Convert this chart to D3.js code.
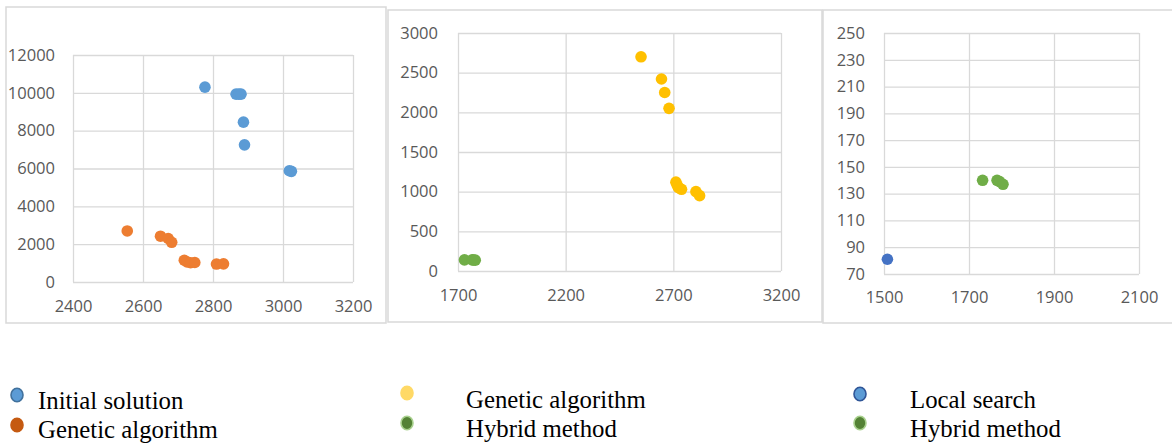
<!DOCTYPE html>
<html>
<head>
<meta charset="utf-8">
<script src="https://cdnjs.cloudflare.com/ajax/libs/d3/7.8.5/d3.min.js"></script>
<style>
  body { margin: 0; background: #fff; }
  .tick text { font-family: "Open Sans", sans-serif; font-size: 16.5px; fill: #595959; }
  .legend text { font-family: "Liberation Serif", "Times New Roman", serif; font-size: 24.8px; fill: #000; }
</style>
</head>
<body>
<div id="chart"></div>
<script>
// panel 1 : initial solution vs genetic algorithm
var p1Initial = [[2777, 10300], [2866, 9930], [2874, 9930], [2880, 9930], [2887, 8450], [2890, 7250], [3018, 5880], [3024, 5850]];
var p1Genetic = [[2555, 2700], [2650, 2420], [2672, 2300], [2682, 2100], [2718, 1150], [2726, 1060], [2736, 1020], [2748, 1030], [2810, 950], [2830, 960]];
var p1XTicks = [2400, 2600, 2800, 3000, 3200];
var p1YTicks = [0, 2000, 4000, 6000, 8000, 10000, 12000];

// panel 2 : genetic algorithm vs hybrid method
var p2Genetic = [[2550, 2700], [2645, 2420], [2660, 2250], [2680, 2050], [2712, 1120], [2718, 1080], [2724, 1050], [2738, 1030], [2805, 1000], [2822, 950]];
var p2Hybrid = [[1730, 140], [1766, 140], [1772, 139], [1780, 137]];
var p2XTicks = [1700, 2200, 2700, 3200];
var p2YTicks = [0, 500, 1000, 1500, 2000, 2500, 3000];

// panel 3 : local search vs hybrid method
var p3Local = [[1508, 81]];
var p3Hybrid = [[1732, 140], [1766, 140], [1772, 139], [1780, 137]];
var p3XTicks = [1500, 1700, 1900, 2100];
var p3YTicks = [70, 90, 110, 130, 150, 170, 190, 210, 230, 250];

var svg = d3.select("#chart").append("svg")
    .attr("width", 1172)
    .attr("height", 444);

var grid = "#d9d9d9";

function panel(opt) {
  // outer frame
  svg.append("rect")
    .attr("x", opt.box[0]).attr("y", opt.box[1])
    .attr("width", opt.box[2]).attr("height", opt.box[3])
    .style("fill", "none").style("stroke", grid).style("stroke-width", 1.5);

  var w = opt.plot[2], h = opt.plot[3];
  var g = svg.append("g")
    .attr("transform", "translate(" + opt.plot[0] + "," + opt.plot[1] + ")");

  var x = d3.scaleLinear().domain(d3.extent(opt.xTicks)).range([0, w]);
  var y = d3.scaleLinear().domain(d3.extent(opt.yTicks)).range([h, 0]);

  var xa = g.append("g")
    .attr("transform", "translate(0," + h + ")")
    .call(d3.axisBottom(x).tickValues(opt.xTicks).tickSize(-h).tickPadding(opt.xPad).tickFormat(d3.format("d")));
  var ya = g.append("g")
    .call(d3.axisLeft(y).tickValues(opt.yTicks).tickSize(-w).tickPadding(opt.yPad).tickFormat(d3.format("d")));

  [xa, ya].forEach(function(a) {
    a.select(".domain").remove();
    a.selectAll(".tick line").style("stroke", grid).style("stroke-width", 1.3);
  });

  opt.series.forEach(function(s) {
    g.selectAll(null)
      .data(s.data)
      .enter().append("circle")
        .attr("cx", function(d) { return x(d[0]); })
        .attr("cy", function(d) { return y(d[1]); })
        .attr("r", 5.8)
        .style("fill", s.color);
  });
}

panel({
  box: [6, 7, 380, 316], plot: [73, 55, 280, 227],
  xTicks: p1XTicks, yTicks: p1YTicks, xPad: 18, yPad: 18,
  series: [{data: p1Initial, color: "#5b9bd5"}, {data: p1Genetic, color: "#ed7d31"}]
});

panel({
  box: [388, 10, 434, 312], plot: [458, 33, 323, 238],
  xTicks: p2XTicks, yTicks: p2YTicks, xPad: 18, yPad: 20,
  series: [{data: p2Genetic, color: "#ffc000"}, {data: p2Hybrid, color: "#70ad47"}]
});

panel({
  box: [823, 10, 352, 313], plot: [884, 33, 255, 241],
  xTicks: p3XTicks, yTicks: p3YTicks, xPad: 17, yPad: 19,
  series: [{data: p3Local, color: "#4472c4"}, {data: p3Hybrid, color: "#70ad47"}]
});

// legend
var legendItems = [
  {label: "Initial solution", fill: "#5b9bd5", stroke: "#41719c", mx: 17, my: 395, tx: 38, ty: 409},
  {label: "Genetic algorithm", fill: "#c55a11", stroke: "#c55a11", mx: 17, my: 425, tx: 38, ty: 438},
  {label: "Genetic algorithm", fill: "#ffd966", stroke: "#ffd966", mx: 407, my: 393, tx: 466, ty: 408},
  {label: "Hybrid method", fill: "#548235", stroke: "#a9d18e", mx: 407, my: 423, tx: 466, ty: 437},
  {label: "Local search", fill: "#5b9bd5", stroke: "#2f5597", mx: 860, my: 394, tx: 910, ty: 408},
  {label: "Hybrid method", fill: "#548235", stroke: "#a9d18e", mx: 860, my: 423, tx: 910, ty: 437}
];

var lg = svg.append("g").attr("class", "legend");
lg.selectAll("ellipse")
  .data(legendItems)
  .enter().append("ellipse")
    .attr("cx", function(d) { return d.mx; })
    .attr("cy", function(d) { return d.my; })
    .attr("rx", 6).attr("ry", 6.8)
    .style("fill", function(d) { return d.fill; })
    .style("stroke", function(d) { return d.stroke; })
    .style("stroke-width", 1.6);
lg.selectAll("text")
  .data(legendItems)
  .enter().append("text")
    .attr("x", function(d) { return d.tx; })
    .attr("y", function(d) { return d.ty; })
    .text(function(d) { return d.label; });
</script>
</body>
</html>
